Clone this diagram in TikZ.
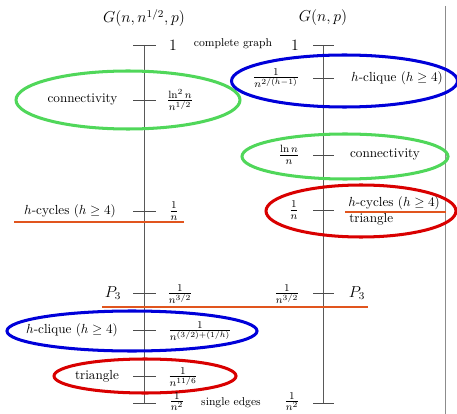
\documentclass[tikz,border=0pt]{standalone}
\usepackage{amsmath}
\begin{document}
\begin{tikzpicture}[x=0.76pt,y=-0.76pt,
  axis/.style={draw=black!65,line width=0.5pt},
  tick/.style={draw=black!70,line width=0.5pt},
  lbl/.style={inner sep=0pt,font=\normalsize},
  frc/.style={inner sep=0pt,font=\large},
  ell/.style={line width=2.3pt},
  blu/.style={ell,draw=blue!85!black},
  rd/.style={ell,draw=red!85!black},
  orng/.style={draw=oc,line width=2.2pt}]
\definecolor{gr}{RGB}{80,215,90}
\definecolor{oc}{RGB}{225,85,30}
\useasboundingbox (0,0) rectangle (457,414);
% titles
\node[lbl,font=\large] (t1) at (144,18) {$G(n,n^{1/2},p)$};
\node[lbl,font=\large] (t2) at (323,18) {$G(n,p)$};
% axes
\coordinate (la) at (144.5,45); \coordinate (lb) at (144.5,403);
\coordinate (ra) at (323,45); \coordinate (rb) at (323,403);
\draw[axis] (la) -- (lb);
\draw[axis] (ra) -- (rb);
\coordinate (fa) at (445,6); \coordinate (fb) at (445,414);
\draw[draw=black!45,line width=0.6pt] (fa) -- (fb);
% left ticks
\foreach \y in {45,100,211,293,330,376.5,403}{\draw[tick] (133,\y) -- (156,\y);}
% right ticks
\foreach \y in {45,78,155,210,293,403}{\draw[tick] (313,\y) -- (334,\y);}
% top
\node[lbl,font=\large] (l1) at (173,45) {$1$};
\node[lbl,font=\fontsize{8.6}{10}\selectfont] (cg) at (233,44) {complete graph};
\node[lbl,font=\large] (r1) at (295,45) {$1$};
% left connectivity
\draw[ell,draw=gr] (128,100) ellipse [x radius=112,y radius=29];
\node[lbl] (lc) at (82.5,100) {connectivity};
\node[frc] (lcf) at (180,100) {$\frac{\ln^2 n}{n^{1/2}}$};
% right h-clique
\draw[blu] (344.5,81) ellipse [x radius=113,y radius=26];
\node[frc] (rhf) at (276,78) {$\frac{1}{n^{2/(h-1)}}$};
\node[lbl] (rh) at (397,78) {$h$-clique $(h\geq4)$};
% right connectivity
\draw[ell,draw=gr] (345,156.5) ellipse [x radius=103,y radius=22.5];
\node[frc] (rcf) at (289,155) {$\frac{\ln n}{n}$};
\node[lbl] (rc) at (385,155) {connectivity};
% left h-cycles
\node[lbl] (lhc) at (70,211) {$h$-cycles $(h\geq4)$};
\node[frc] (lhcf) at (174,211) {$\frac{1}{n}$};
\coordinate (o1a) at (14,222); \coordinate (o1b) at (184,222);
\draw[orng] (o1a) -- (o1b);
% right 1/n
\draw[rd] (361,211) ellipse [x radius=95,y radius=26];
\node[frc] (rnf) at (294,210) {$\frac{1}{n}$};
\node[lbl,anchor=west] (rhc) at (348,203) {$h$-cycles $(h\geq4)$};
\node[lbl,anchor=west] (rtr) at (349,219.5) {triangle};
\coordinate (o2a) at (345,212); \coordinate (o2b) at (446,212);
\draw[orng] (o2a) -- (o2b);
% P3
\node[lbl,font=\large] (lp) at (113,293) {$P_3$};
\node[frc] (lpf) at (180,294) {$\frac{1}{n^{3/2}}$};
\node[frc] (rpf) at (287,294) {$\frac{1}{n^{3/2}}$};
\node[lbl,font=\large] (rp) at (357,293) {$P_3$};
\coordinate (o3a) at (102,307); \coordinate (o3b) at (368,307);
\draw[orng] (o3a) -- (o3b);
% left h-clique
\draw[blu] (132,331) ellipse [x radius=125,y radius=20];
\node[lbl] (lhq) at (72,330) {$h$-clique $(h\geq4)$};
\node[frc] (lhqf) at (200,331) {$\frac{1}{n^{(3/2)+(1/h)}}$};
% triangle
\draw[rd] (145,376) ellipse [x radius=91,y radius=17];
\node[lbl] (ltr) at (97,376) {triangle};
\node[frc] (ltrf) at (183,377) {$\frac{1}{n^{11/6}}$};
% bottom
\node[frc] (lbf) at (177,401.5) {$\frac{1}{n^2}$};
\node[lbl,font=\fontsize{8.6}{10}\selectfont] (se) at (231,403) {single edges};
\node[frc] (rbf) at (292,401.5) {$\frac{1}{n^2}$};
\end{tikzpicture}
\end{document}
